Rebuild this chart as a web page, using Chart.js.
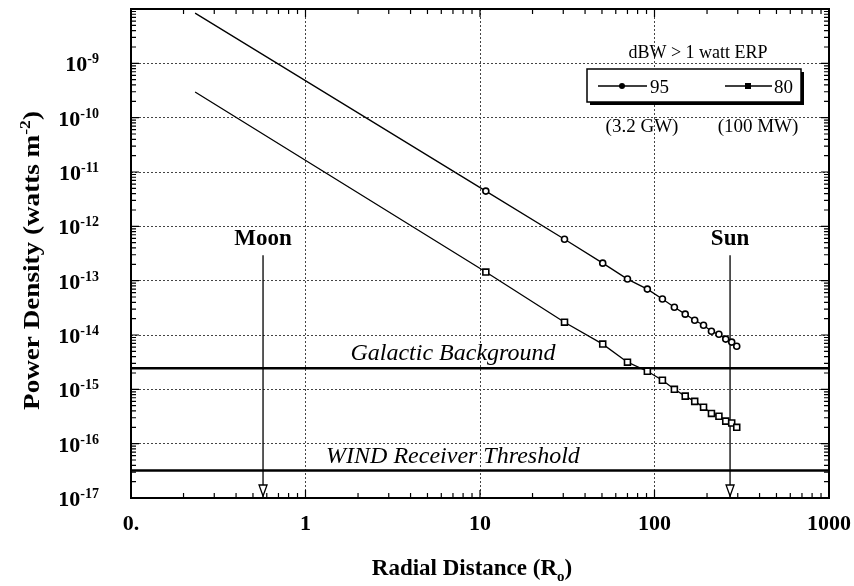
<!DOCTYPE html>
<html>
<head>
<meta charset="utf-8">
<script src="https://cdn.jsdelivr.net/npm/chart.js@4.4.1/dist/chart.umd.min.js"></script>
<style>
    html, body { margin: 0; padding: 0; background: #fff; }
    #wrap { width: 854px; height: 586px; }
</style>
</head>
<body>
<div id="wrap"><canvas id="powerChart" width="854" height="586"></canvas></div>
<script>
// radial distance of each point (solar radii)
const radii = [0.233, 10.8, 30.5, 50.5, 70, 91, 111, 130, 150, 170, 191, 212, 234, 256, 277, 296];
// power density, watts m^-2
const density95 = [8.4e-9, 4.45e-12, 5.8e-13, 2.1e-13, 1.07e-13, 7.0e-14, 4.6e-14, 3.25e-14, 2.42e-14, 1.87e-14, 1.51e-14, 1.17e-14, 1.03e-14, 8.4e-15, 7.4e-15, 6.2e-15];
const density80 = [2.96e-10, 1.44e-13, 1.72e-14, 6.8e-15, 3.16e-15, 2.15e-15, 1.47e-15, 1.0e-15, 7.5e-16, 6.0e-16, 4.7e-16, 3.6e-16, 3.2e-16, 2.6e-16, 2.4e-16, 2.0e-16];

const galacticBackground = 2.45e-15;
const windThreshold = 3.2e-17;
const moonDistance = 0.571;
const sunDistance = 271;
const arrowTop = 2.95e-13;

const xRange = [0.1, 1000];
const yRange = [1e-17, 1e-8];
const xTickValues = [0.1, 1, 10, 100, 1000];
const xTickLabels = ['0.', '1', '10', '100', '1000'];
const yTickExponents = [-9, -10, -11, -12, -13, -14, -15, -16, -17];

const SERIF = '"Liberation Serif", "Times New Roman", serif';

function pts(xs, ys) {
    return xs.map((x, i) => ({ x: x, y: ys[i] }));
}

function drawParts(ctx, parts, x, y, align) {
    let total = 0;
    parts.forEach(p => { ctx.font = p.font; p.w = ctx.measureText(p.text).width; total += p.w; });
    let cx = align === 'right' ? x - total : align === 'center' ? x - total / 2 : x;
    ctx.textAlign = 'left';
    ctx.textBaseline = 'alphabetic';
    parts.forEach(p => { ctx.font = p.font; ctx.fillText(p.text, cx, y + (p.dy || 0)); cx += p.w; });
}

// frame, inward minor ticks, arrow heads, labels, legend
const decorations = {
    id: 'decorations',
    afterDraw(chart) {
        const ctx = chart.ctx;
        const a = chart.chartArea;
        const xs = chart.scales.x, ys = chart.scales.y;
        ctx.save();
        ctx.strokeStyle = '#000';
        ctx.fillStyle = '#000';

        // minor ticks on all four sides
        ctx.lineWidth = 1.2;
        ctx.beginPath();
        for (let e = -1; e < 3; e++) {
            for (let m = 1; m < 10; m++) {
                const px = xs.getPixelForValue(m * Math.pow(10, e));
                const len = m === 1 ? 8 : 5;
                ctx.moveTo(px, a.bottom); ctx.lineTo(px, a.bottom - len);
                ctx.moveTo(px, a.top); ctx.lineTo(px, a.top + len);
            }
        }
        for (let e = -17; e < -8; e++) {
            for (let m = 1; m < 10; m++) {
                const py = ys.getPixelForValue(m * Math.pow(10, e));
                const len = m === 1 ? 8 : 5;
                ctx.moveTo(a.left, py); ctx.lineTo(a.left + len, py);
                ctx.moveTo(a.right, py); ctx.lineTo(a.right - len, py);
            }
        }
        ctx.stroke();

        // frame
        ctx.lineWidth = 2;
        ctx.strokeRect(a.left, a.top, a.right - a.left, a.bottom - a.top);

        // arrow heads on Moon / Sun markers
        chart.data.datasets.forEach((ds, i) => {
            if (!ds.arrow) return;
            const el = chart.getDatasetMeta(i).data[1];
            const tipY = el.y - 2;
            ctx.beginPath();
            ctx.moveTo(el.x, tipY);
            ctx.lineTo(el.x - 4, tipY - 11);
            ctx.lineTo(el.x + 4, tipY - 11);
            ctx.closePath();
            ctx.fillStyle = '#fff';
            ctx.fill();
            ctx.lineWidth = 1.3;
            ctx.stroke();
            ctx.fillStyle = '#000';
        });

        // y tick labels with superscript exponents
        yTickExponents.forEach(e => {
            const py = ys.getPixelForValue(Math.pow(10, e));
            drawParts(ctx, [
                { text: '10', font: 'bold 22px ' + SERIF },
                { text: String(e), font: 'bold 14px ' + SERIF, dy: -8 }
            ], a.left - 32, py + 8, 'right');
        });

        // axis titles
        drawParts(ctx, [
            { text: 'Radial Distance (R', font: 'bold 23px ' + SERIF },
            { text: 'o', font: 'bold 15px ' + SERIF, dy: 6 },
            { text: ')', font: 'bold 23px ' + SERIF }
        ], (a.left + a.right) / 2 - 8, 575, 'center');

        ctx.save();
        ctx.translate(39, (a.top + a.bottom) / 2 + 7);
        ctx.rotate(-Math.PI / 2);
        ctx.scale(1.18, 1);
        drawParts(ctx, [
            { text: 'Power Density (watts m', font: 'bold 23px ' + SERIF },
            { text: '-2', font: 'bold 15px ' + SERIF, dy: -9 },
            { text: ')', font: 'bold 23px ' + SERIF }
        ], 0, 0, 'center');
        ctx.restore();

        // annotations
        const moonX = xs.getPixelForValue(moonDistance);
        const sunX = xs.getPixelForValue(sunDistance);
        const topY = ys.getPixelForValue(arrowTop);
        drawParts(ctx, [{ text: 'Moon', font: 'bold 23px ' + SERIF }], moonX, topY - 10, 'center');
        drawParts(ctx, [{ text: 'Sun', font: 'bold 23px ' + SERIF }], sunX, topY - 10, 'center');
        const labelX = xs.getPixelForValue(7);
        drawParts(ctx, [{ text: 'Galactic Background', font: 'italic 24px ' + SERIF }],
            labelX, ys.getPixelForValue(galacticBackground) - 8, 'center');
        drawParts(ctx, [{ text: 'WIND Receiver Threshold', font: 'italic 24px ' + SERIF }],
            labelX, ys.getPixelForValue(windThreshold) - 8, 'center');

        // legend box
        const lx = a.right - 242, ly = a.top + 60, lw = 214, lh = 33;
        ctx.fillRect(lx + 3, ly + 3, lw, lh);
        ctx.fillStyle = '#fff';
        ctx.fillRect(lx, ly, lw, lh);
        ctx.fillStyle = '#000';
        ctx.lineWidth = 1.5;
        ctx.strokeRect(lx, ly, lw, lh);
        const my = ly + 17;
        ctx.lineWidth = 1.3;
        ctx.beginPath();
        ctx.moveTo(lx + 11, my); ctx.lineTo(lx + 60, my);
        ctx.moveTo(lx + 138, my); ctx.lineTo(lx + 185, my);
        ctx.stroke();
        ctx.beginPath();
        ctx.arc(lx + 35, my, 3, 0, Math.PI * 2);
        ctx.fill();
        ctx.fillRect(lx + 158, my - 3, 6, 6);
        drawParts(ctx, [{ text: '95', font: '19px ' + SERIF }], lx + 63, my + 7, 'left');
        drawParts(ctx, [{ text: '80', font: '19px ' + SERIF }], lx + 187, my + 7, 'left');
        drawParts(ctx, [{ text: 'dBW > 1 watt ERP', font: '18px ' + SERIF }], lx + 111, ly - 11, 'center');
        drawParts(ctx, [{ text: '(3.2 GW)', font: '19px ' + SERIF }], lx + 55, ly + lh + 30, 'center');
        drawParts(ctx, [{ text: '(100 MW)', font: '19px ' + SERIF }], lx + 171, ly + lh + 30, 'center');

        ctx.restore();
    }
};

const ctx = document.getElementById('powerChart').getContext('2d');
const powerChart = new Chart(ctx, {
    type: 'line',
    data: {
        datasets: [
            {
                label: '95',
                data: pts(radii, density95),
                borderColor: '#000',
                borderWidth: 1.3,
                pointStyle: 'circle',
                pointRadius: c => c.dataIndex === 0 ? 0 : 3,
                pointBackgroundColor: '#fff',
                pointBorderColor: '#000',
                pointBorderWidth: 1.6
            },
            {
                label: '80',
                data: pts(radii, density80),
                borderColor: '#000',
                borderWidth: 1.3,
                pointStyle: 'rect',
                pointRadius: c => c.dataIndex === 0 ? 0 : 4.2,
                pointBackgroundColor: '#fff',
                pointBorderColor: '#000',
                pointBorderWidth: 1.6
            },
            {
                label: 'Galactic Background',
                data: pts(xRange, [galacticBackground, galacticBackground]),
                borderColor: '#000',
                borderWidth: 2.6,
                pointRadius: 0
            },
            {
                label: 'WIND Receiver Threshold',
                data: pts(xRange, [windThreshold, windThreshold]),
                borderColor: '#000',
                borderWidth: 2.6,
                pointRadius: 0
            },
            {
                label: 'Moon',
                arrow: true,
                data: pts([moonDistance, moonDistance], [arrowTop, yRange[0]]),
                borderColor: '#000',
                borderWidth: 1.3,
                pointRadius: 0
            },
            {
                label: 'Sun',
                arrow: true,
                data: pts([sunDistance, sunDistance], [arrowTop, yRange[0]]),
                borderColor: '#000',
                borderWidth: 1.3,
                pointRadius: 0
            }
        ]
    },
    options: {
        responsive: false,
        animation: false,
        devicePixelRatio: 1,
        events: [],
        layout: { padding: { top: 9, right: 25, left: 0, bottom: 0 } },
        plugins: {
            legend: { display: false },
            tooltip: { enabled: false }
        },
        scales: {
            x: {
                type: 'logarithmic',
                min: xRange[0],
                max: xRange[1],
                afterBuildTicks: s => { s.ticks = xTickValues.map(v => ({ value: v })); },
                afterFit: s => { s.height = 88; s.paddingLeft = 0; s.paddingRight = 0; },
                ticks: {
                    autoSkip: false,
                    maxRotation: 0,
                    padding: 13,
                    color: '#000',
                    font: { family: SERIF, size: 22, weight: 'bold' },
                    callback: v => xTickLabels[xTickValues.indexOf(v)]
                },
                grid: { color: '#444', lineWidth: 1, drawTicks: false },
                border: { display: false, dash: [2, 2] }
            },
            y: {
                type: 'logarithmic',
                min: yRange[0],
                max: yRange[1],
                afterBuildTicks: s => {
                    s.ticks = [-17, -16, -15, -14, -13, -12, -11, -10, -9, -8].map(e => ({ value: Math.pow(10, e) }));
                },
                afterFit: s => { s.width = 131; s.paddingTop = 0; s.paddingBottom = 0; },
                ticks: { display: false },
                grid: { color: '#444', lineWidth: 1, drawTicks: false },
                border: { display: false, dash: [2, 2] }
            }
        }
    },
    plugins: [decorations]
});
</script>
</body>
</html>
